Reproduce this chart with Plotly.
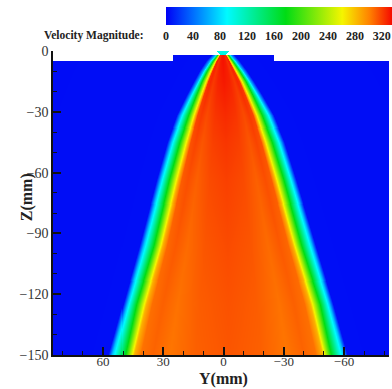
import numpy as np
import plotly.graph_objects as go

# ---- data ----
z_levels = [-1.6, -5, -10, -15, -22, -32, -45, -64, -96, -125, -150]               # Z (mm)
core_halfwidth = [1.5, 3.5, 6.0, 8.4, 11.2, 15.0, 19.0, 24.2, 32.5, 41.0, 47.0]    # orange core edge (mm)
green_halfwidth = [2.5, 5.0, 8.2, 11.0, 14.2, 18.5, 23.2, 28.8, 37.0, 46.0, 51.5]  # ~175 m/s contour
outer_halfwidth = [3.5, 6.5, 10.0, 13.0, 17.0, 22.3, 27.3, 33.0, 42.0, 50.5, 57.5] # jet edge (~70 m/s)
jet_center = [0.2, 0.2, 0.0, -0.3, -0.6, -1.0, -1.3, -1.6, -2.2, -2.5, -2.5]      # jet axis Y (mm)
center_velocity = [334, 333, 332, 331, 329, 326, 323, 320, 317, 315, 314]          # m/s
ambient_velocity = 3
nozzle_velocity = 100
nozzle_halfwidth = 2.8
step_halfwidth = 25.0      # raised part of the domain (mm)
step_top = -1.6            # top of the raised part (mm)
outer_top = -5.0           # top of the outer domain (mm)
cbar_ticks = [0, 40, 80, 120, 160, 200, 240, 280, 320]
x_ticks = [60, 30, 0, -30, -60]
z_ticks = [0, -30, -60, -90, -120, -150]

# ---- grid ----
zl = [-v for v in z_levels]
Y = np.arange(86.0, -84.5, -0.5)
Z = np.arange(0.0, -151.0, -0.5)
field = np.full((len(Z), len(Y)), np.nan)
for i, zc in enumerate(Z):
    zq = -min(zc, z_levels[0])
    ro = np.interp(zq, zl, core_halfwidth)
    rg = np.interp(zq, zl, green_halfwidth)
    rb = np.interp(zq, zl, outer_halfwidth)
    c = np.interp(zq, zl, jet_center)
    cv = np.interp(zq, zl, center_velocity)
    d = np.abs(Y - c)
    row = np.interp(d, [0, 0.35 * ro, 0.62 * ro, 0.8 * ro, 0.93 * ro, ro, rg, rb, rb + 2.0, 300],
                    [cv, cv - 3, cv - 9, cv - 4, cv - 8, 285, 175, 70, ambient_velocity + 2, ambient_velocity])
    top = np.where(np.abs(Y) <= step_halfwidth, step_top, outer_top)
    row = np.where(zc > top + 1e-9, np.nan, row)
    if zc > step_top:
        w = 1.5 + (nozzle_halfwidth - 1.5) * (zc - step_top) / (-step_top)
        row = np.where(np.abs(Y - 0.25) <= w, nozzle_velocity, row)
    field[i] = row

colorscale = [
    [0.0, "rgb(0,0,245)"],
    [0.12, "rgb(0,110,255)"],
    [0.27, "rgb(0,250,255)"],
    [0.53, "rgb(0,220,20)"],
    [0.78, "rgb(245,245,0)"],
    [0.9, "rgb(255,130,0)"],
    [1.0, "rgb(245,10,0)"],
]

W, H = 392, 389
ml, mr, mt, mb = 53, 0, 51, 34
pw, ph = W - ml - mr, H - mt - mb

def px_x(p):
    return (p - ml) / pw

def px_y(p):
    return (H - mb - p) / ph

serif = "Liberation Serif"

fig = go.Figure(go.Heatmap(
    x=Y, y=Z, z=field, zmin=0, zmax=335, colorscale=colorscale,
    hoverongaps=False,
    colorbar=dict(
        orientation="h", x=px_x(167), xanchor="left", y=px_y(7), yanchor="top",
        len=226, lenmode="pixels", thickness=18, xpad=0, ypad=0,
        outlinewidth=0, tickvals=cbar_ticks, ticks="",
        tickfont=dict(family=serif, size=12, color="#222", weight="bold"),
    ),
))

axis_common = dict(
    ticks="inside", ticklen=8, tickwidth=1.5, tickcolor="#111",
    showline=True, linecolor="#111", linewidth=1.5,
    showgrid=False, zeroline=False,
    minor=dict(ticks="inside", ticklen=4, tickwidth=1, tickcolor="#111", dtick=10, tick0=0, showgrid=False),
)

fig.update_xaxes(range=[84.9, -82.4], tickmode="array", tickvals=x_ticks, ticklabelstandoff=-6,
                 tickfont=dict(family=serif, size=13, color="#333"), **axis_common)
fig.update_yaxes(range=[-150, 0], tickmode="array", tickvals=z_ticks,
                 tickfont=dict(family=serif, size=14, color="#333"), **axis_common)

fig.update_layout(
    width=W, height=H, margin=dict(l=ml, r=mr, t=mt, b=mb, pad=0),
    paper_bgcolor="white", plot_bgcolor="white",
    annotations=[
        dict(text="<b>Velocity Magnitude:</b>", xref="paper", yref="paper",
             x=px_x(147), y=px_y(35), xanchor="right", yanchor="middle", showarrow=False,
             font=dict(family=serif, size=11.5, color="#222")),
        dict(text="<b>Y(mm)</b>", xref="paper", yref="paper",
             x=px_x(225), y=px_y(379), xanchor="center", yanchor="middle", showarrow=False,
             font=dict(family=serif, size=16, color="#222")),
        dict(text="<b>Z(mm)</b>", xref="paper", yref="paper", textangle=-90,
             x=px_x(27), y=px_y(197), xanchor="center", yanchor="middle", showarrow=False,
             font=dict(family=serif, size=16, color="#222")),
    ],
)

fig.write_html("out.html")
